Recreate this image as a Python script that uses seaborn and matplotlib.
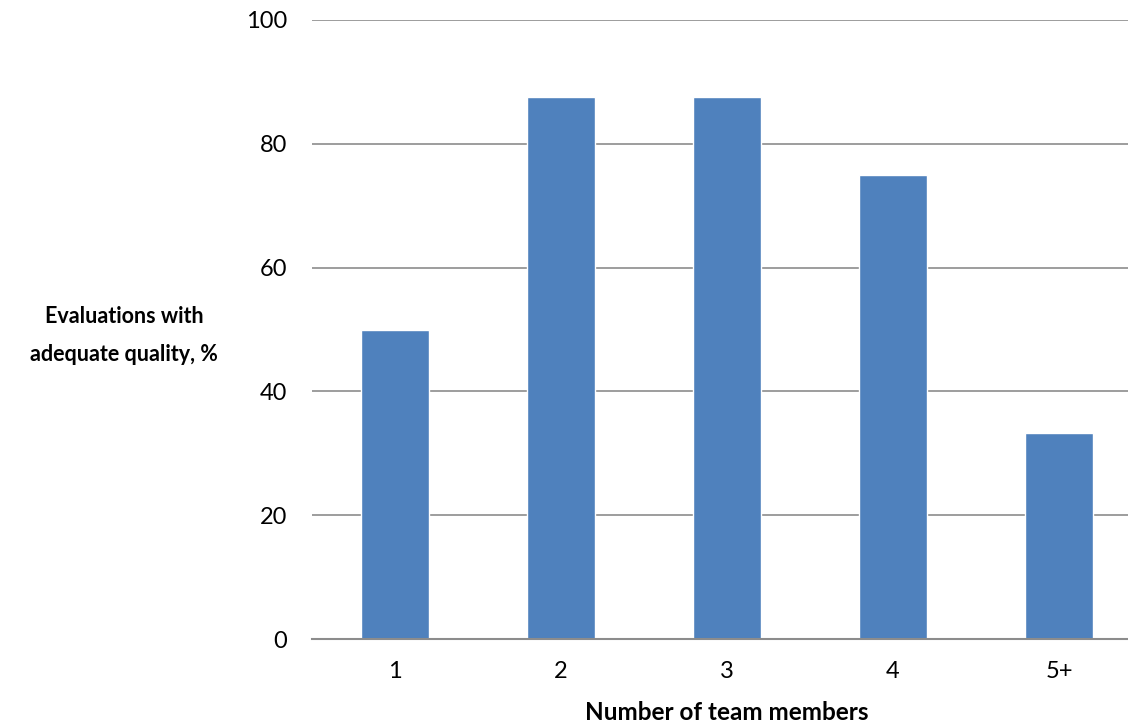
import matplotlib
matplotlib.use("Agg")
import matplotlib.pyplot as plt
import seaborn as sns
import pandas as pd

# Share of evaluations rated adequate, by team size
team_sizes = ["1", "2", "3", "4", "5+"]
adequate_pct = [50.0, 87.5, 87.5, 75.0, 33.3]

y_ticks = [0, 20, 40, 60, 80, 100]

sns.set_theme(style="white")
plt.rcParams["font.family"] = ["Lato", "DejaVu Sans"]

df = pd.DataFrame({"team": team_sizes, "pct": adequate_pct})

fig = plt.figure(figsize=(11.28, 7.24), dpi=100)
ax = fig.add_axes([312 / 1128, 1 - 639 / 724, 816 / 1128, (639 - 20) / 724])

sns.barplot(data=df, x="team", y="pct", color="#4F81BD", saturation=1,
            width=0.41, ax=ax, zorder=3)

ax.set_ylim(0, 100)
ax.set_xlim(-0.5, 4.416)
ax.set_yticks(y_ticks)
ax.yaxis.grid(True, color="#8C8C8C", linewidth=1.2, zorder=0)
ax.xaxis.grid(False)
for side in ["top", "right", "left"]:
    ax.spines[side].set_visible(False)
ax.spines["bottom"].set_color("#8C8C8C")
ax.spines["bottom"].set_linewidth(1.5)
ax.spines["bottom"].set_zorder(4)

ax.tick_params(axis="y", length=0, pad=18, labelsize=17, labelcolor="#000000")
ax.tick_params(axis="x", length=0, pad=16, labelsize=17, labelcolor="#000000")

ax.set_xlabel("")
ax.set_ylabel("")
fig.text(727 / 1128, 1 - 713 / 724, "Number of team members",
         ha="center", va="center", fontsize=17.5, fontweight="bold",
         color="#000000")
fig.text(124 / 1128, 1 - 335 / 724, "Evaluations with\nadequate quality, %",
         ha="center", va="center", fontsize=15.5, fontweight="bold",
         linespacing=2.0, color="#000000")

fig.savefig("out.png", dpi=100)
